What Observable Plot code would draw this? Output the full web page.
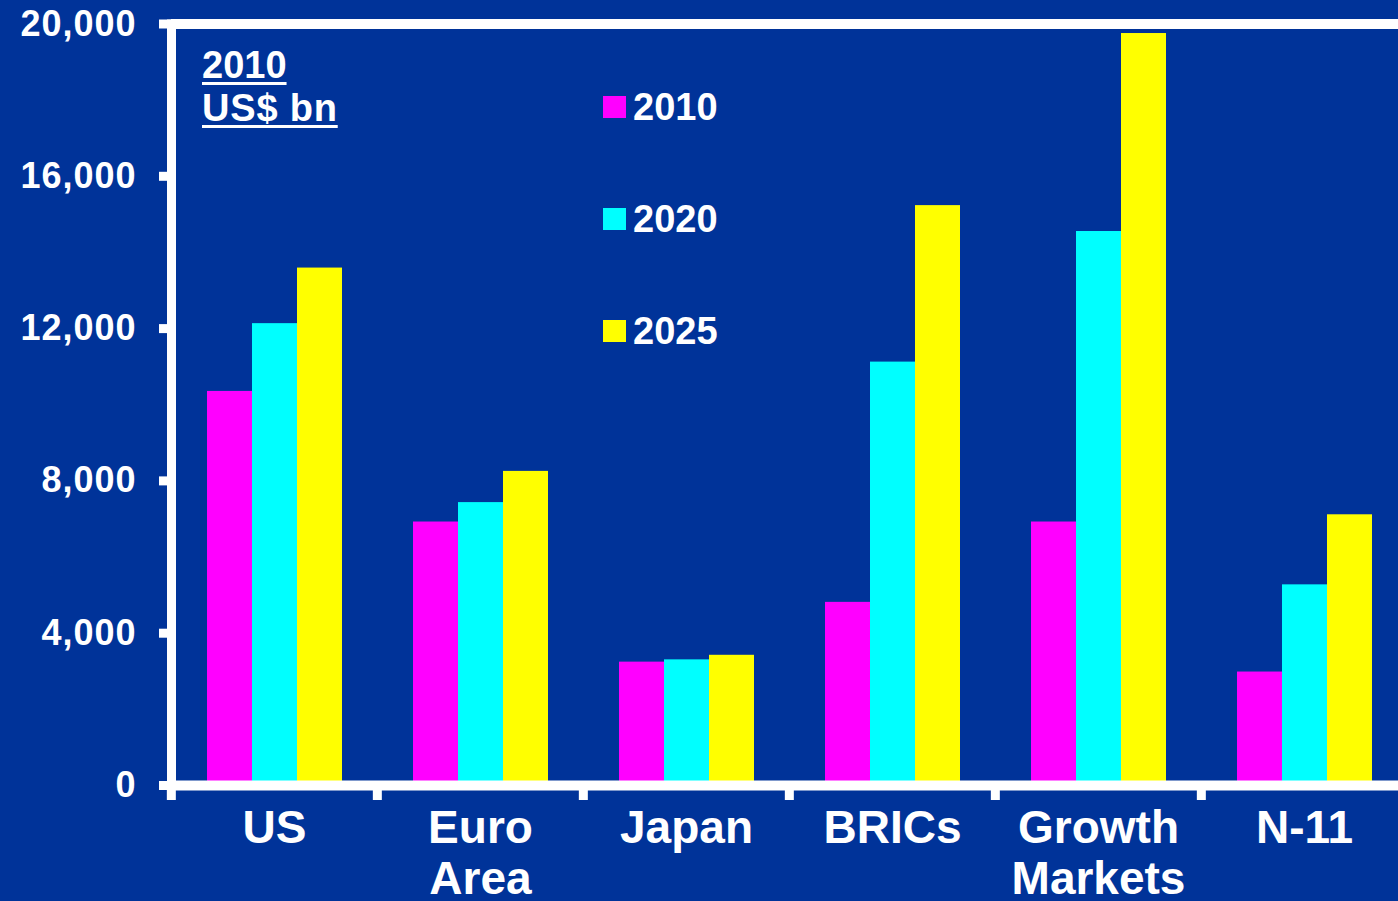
<!DOCTYPE html>
<html>
<head>
<meta charset="utf-8">
<script src="https://cdn.jsdelivr.net/npm/d3@7"></script>
<script src="https://cdn.jsdelivr.net/npm/@observablehq/plot@0.6"></script>
<style>
  html, body { margin: 0; padding: 0; background: #003399; overflow: hidden; }
  #wrap { position: relative; width: 1398px; height: 901px; overflow: hidden; background: #003399;
          font-family: "Liberation Sans", Arial, sans-serif; font-weight: bold; color: white; }
  #chart svg { display: block; }
  #chart g[aria-label="y-axis tick label"] text { letter-spacing: 1px; }
  #note { position: absolute; left: 202px; top: 44px; font-size: 38px; line-height: 43px; }
  #note span { text-decoration: underline; text-decoration-thickness: 3px; text-underline-offset: 4px; }
  #note .u2 { letter-spacing: 0.8px; }
  #legend { position: absolute; left: 603px; top: 88px; display: flex; flex-direction: column; gap: 74px; }
  .item { display: flex; align-items: center; height: 38px; }
  .sw { width: 23px; height: 22px; margin-right: 7px; }
  .lab { font-size: 38px; line-height: 1; }
</style>
</head>
<body>
<div id="wrap">
  <div id="chart"></div>
  <div id="note"><span>2010</span><br><span class="u2">US$ bn</span></div>
  <div id="legend"></div>
</div>
<script>
const categories = ["US", "Euro Area", "Japan", "BRICs", "Growth Markets", "N-11"];
const categoryLabels = ["US", "Euro\nArea", "Japan", "BRICs", "Growth\nMarkets", "N-11"];
const years = ["2010", "2020", "2025"];
const gdp2010 = [10350, 6920, 3240, 4810, 6920, 2980];
const gdp2020 = [12130, 7430, 3300, 11120, 14550, 5270];
const gdp2025 = [13590, 8250, 3420, 15230, 19750, 7110];
const yTicks = [0, 4000, 8000, 12000, 16000, 20000];
const colors = ["#ff00ff", "#00ffff", "#ffff00"];

const series = [gdp2010, gdp2020, gdp2025];
const table = years.flatMap((yr, j) => categories.map((c, i) => ({category: c, year: yr, value: series[j][i]})));

// the last category band runs past the right edge of the picture
const W = 1398, H = 901, ML = 170, MR = -10, MT = 23.5, MB = 116;
const bandHalf = (W - ML - MR) / categories.length / 2;
const labelOf = new Map(categories.map((c, i) => [c, categoryLabels[i]]));

const chart = Plot.plot({
  width: W,
  height: H,
  marginLeft: ML,
  marginRight: MR,
  marginTop: MT,
  marginBottom: MB,
  facet: {marginTop: 0, marginBottom: 0, marginLeft: 0, marginRight: 0},
  style: {background: "#003399", color: "white", fontFamily: "'Liberation Sans', Arial, sans-serif", fontWeight: "bold", overflow: "hidden"},
  fx: {domain: categories, padding: 0, range: [ML, W - MR], axis: null},
  x: {domain: years, paddingInner: 0, paddingOuter: 0.74, axis: null},
  y: {domain: [0, 20000], range: [H - MB, MT], axis: null},
  color: {domain: years, range: colors},
  marks: [
    Plot.barY(table, {fx: "category", x: "year", y: "value", fill: "year"}),
    Plot.ruleY([0, 20000], {stroke: "white", strokeWidth: 10}),
    Plot.frame({anchor: "left", facetAnchor: "left", stroke: "white", strokeWidth: 9}),
    Plot.axisY({ticks: yTicks, tickFormat: d3.format(","), tickSize: 12, tickPadding: 23, strokeWidth: 9,
                fontSize: 36, fontWeight: "bold", label: null, color: "white"}),
    Plot.axisFx({anchor: "bottom", tickSize: 15, strokeWidth: 9, dx: -bandHalf, tickFormat: () => "", label: null, color: "white"}),
    Plot.axisFx({anchor: "bottom", tickSize: 0, tickPadding: 22, fontSize: 46, fontWeight: "bold", lineHeight: 1.1,
                 tickFormat: d => labelOf.get(d), label: null, color: "white"})
  ]
});
document.getElementById("chart").appendChild(chart);

const legend = document.getElementById("legend");
years.forEach((yr, i) => {
  const item = document.createElement("div");
  item.className = "item";
  const sw = document.createElement("div");
  sw.className = "sw";
  sw.style.background = colors[i];
  const lab = document.createElement("div");
  lab.className = "lab";
  lab.textContent = yr;
  item.appendChild(sw);
  item.appendChild(lab);
  legend.appendChild(item);
});
</script>
</body>
</html>
